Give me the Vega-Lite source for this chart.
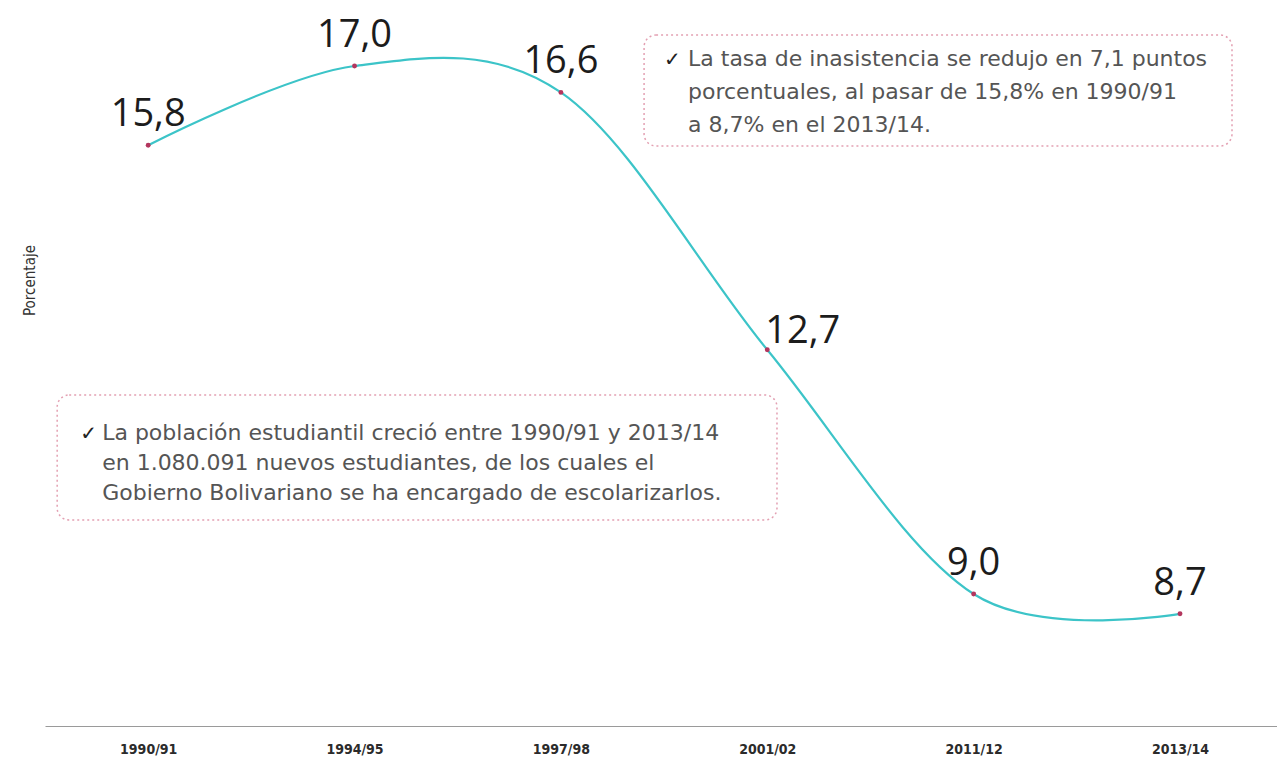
{
  "$schema": "https://vega.github.io/schema/vega-lite/v6.json",
  "width": 1232,
  "height": 726,
  "autosize": {"type": "none"},
  "padding": {"left": 45, "top": 0, "right": 0, "bottom": 39},
  "background": "white",
  "config": {"view": {"stroke": null}},
  "datasets": {
    "serie": [
      {"i": 0, "periodo": "1990/91", "valor": 15.8, "etiqueta": "15,8"},
      {"i": 1, "periodo": "1994/95", "valor": 17.0, "etiqueta": "17,0"},
      {"i": 2, "periodo": "1997/98", "valor": 16.6, "etiqueta": "16,6"},
      {"i": 3, "periodo": "2001/02", "valor": 12.7, "etiqueta": "12,7"},
      {"i": 4, "periodo": "2011/12", "valor": 9.0, "etiqueta": "9,0"},
      {"i": 5, "periodo": "2013/14", "valor": 8.7, "etiqueta": "8,7"}
    ],
    "cajas": [
      {"x": 2.403, "x2": 5.252, "y": 17.47, "y2": 15.788},
      {"x": -0.441, "x2": 3.047, "y": 12.015, "y2": 10.121}
    ],
    "checks": [
      {"x": 2.50, "y": 17.0, "texto": "✓"},
      {"x": -0.329, "y": 11.333, "texto": "✓"}
    ],
    "textos": [
      {"x": 2.616, "y": 17.0, "texto": "La tasa de inasistencia se redujo en 7,1 puntos"},
      {"x": 2.616, "y": 16.5, "texto": "porcentuales, al pasar de 15,8% en 1990/91"},
      {"x": 2.616, "y": 16.0, "texto": "a 8,7% en el 2013/14."},
      {"x": -0.223, "y": 11.333, "texto": "La población estudiantil creció entre 1990/91 y 2013/14"},
      {"x": -0.223, "y": 10.879, "texto": "en 1.080.091 nuevos estudiantes, de los cuales el"},
      {"x": -0.223, "y": 10.424, "texto": "Gobierno Bolivariano se ha encargado de escolarizarlos."}
    ]
  },
  "layer": [
    {
      "data": {"name": "cajas"},
      "mark": {"type": "rect", "fill": "white", "stroke": "#e3a0b2", "strokeWidth": 1.5, "strokeDash": [2, 3], "cornerRadius": 12},
      "encoding": {
        "x": {"field": "x", "type": "quantitative", "scale": {"domain": [-0.5, 5.47], "nice": false, "zero": false},
          "axis": {"title": null, "values": [0, 1, 2, 3, 4, 5], "labelExpr": "['1990/91','1994/95','1997/98','2001/02','2011/12','2013/14'][datum.value]", "grid": false, "ticks": false, "domainColor": "#9a9a9a", "domainWidth": 1, "labelPadding": 16, "labelFont": "'Liberation Sans Narrow', 'DejaVu Sans Condensed', 'Liberation Sans', sans-serif", "labelFontSize": 14, "labelFontWeight": "bold", "labelColor": "#2b2b2b", "labelFlush": false}},
        "x2": {"field": "x2"},
        "y": {"field": "y", "type": "quantitative", "scale": {"domain": [7, 18], "nice": false, "zero": false},
          "axis": {"title": "Porcentaje", "labels": false, "ticks": false, "domain": false, "grid": false, "titleFont": "'Liberation Sans Narrow', 'DejaVu Sans Condensed', 'Liberation Sans', sans-serif", "titleFontSize": 15, "titleFontWeight": "normal", "titleColor": "#333333", "titlePadding": 8, "titleY": 280}},
        "y2": {"field": "y2"}
      }
    },
    {
      "data": {"name": "checks"},
      "mark": {"type": "text", "font": "DejaVu Sans", "fontSize": 20, "fontWeight": "bold", "color": "#222222", "align": "left", "baseline": "alphabetic"},
      "encoding": {
        "x": {"field": "x", "type": "quantitative"},
        "y": {"field": "y", "type": "quantitative"},
        "text": {"field": "texto"}
      }
    },
    {
      "data": {"name": "textos"},
      "mark": {"type": "text", "font": "DejaVu Sans", "fontSize": 22, "color": "#555555", "align": "left", "baseline": "alphabetic"},
      "encoding": {
        "x": {"field": "x", "type": "quantitative"},
        "y": {"field": "y", "type": "quantitative"},
        "text": {"field": "texto"}
      }
    },
    {
      "data": {"name": "serie"},
      "mark": {"type": "line", "interpolate": "cardinal", "color": "#3cc4c8", "strokeWidth": 2.2},
      "encoding": {
        "x": {"field": "i", "type": "quantitative"},
        "y": {"field": "valor", "type": "quantitative"}
      }
    },
    {
      "data": {"name": "serie"},
      "mark": {"type": "circle", "size": 24, "color": "#b3365e", "opacity": 1},
      "encoding": {
        "x": {"field": "i", "type": "quantitative"},
        "y": {"field": "valor", "type": "quantitative"}
      }
    },
    {
      "data": {"name": "serie"},
      "transform": [{"filter": "datum.periodo != '2001/02'"}],
      "mark": {"type": "text", "font": "Open Sans", "fontSize": 38, "color": "#1c1c1c", "align": "center", "baseline": "alphabetic", "dy": -19},
      "encoding": {
        "x": {"field": "i", "type": "quantitative"},
        "y": {"field": "valor", "type": "quantitative"},
        "text": {"field": "etiqueta"}
      }
    },
    {
      "data": {"name": "serie"},
      "transform": [{"filter": "datum.periodo == '2001/02'"}],
      "mark": {"type": "text", "font": "Open Sans", "fontSize": 38, "color": "#1c1c1c", "align": "left", "baseline": "alphabetic", "dx": -2, "dy": -7},
      "encoding": {
        "x": {"field": "i", "type": "quantitative"},
        "y": {"field": "valor", "type": "quantitative"},
        "text": {"field": "etiqueta"}
      }
    }
  ]
}
